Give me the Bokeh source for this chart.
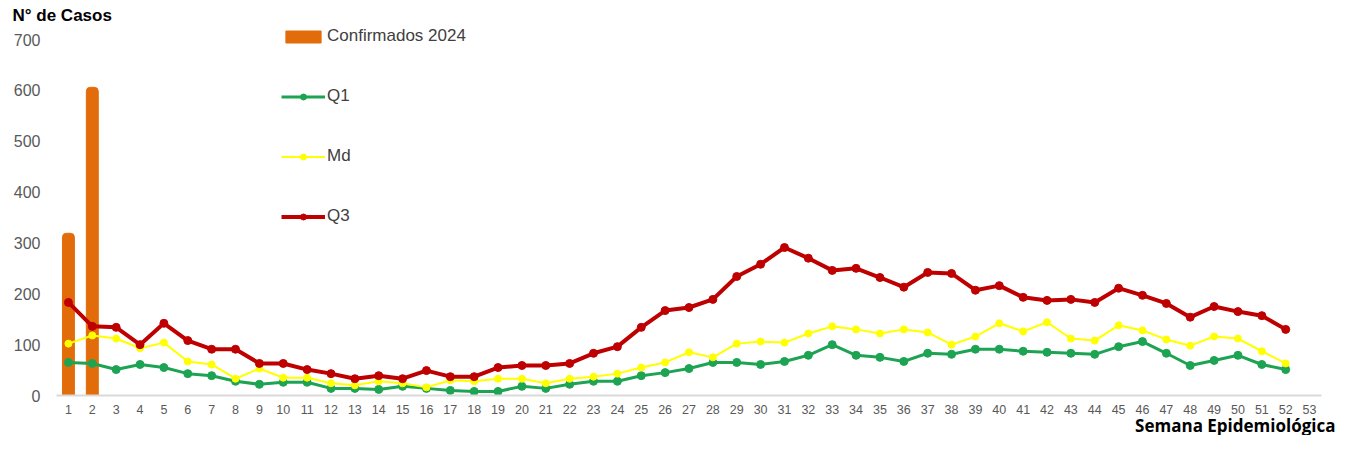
from bokeh.plotting import figure
from bokeh.models import ColumnDataSource, FixedTicker, Legend, LegendItem, Range1d, Title
from bokeh.embed import file_html
from bokeh.resources import INLINE

# ---------------- data ----------------
weeks = list(range(1, 53))
tick_weeks = list(range(1, 54))
conf_weeks = [1, 2]
confirmados_2024 = [319, 606]
q1 = [65, 63, 51, 61, 55, 43, 39, 28, 22, 26, 26, 14, 14, 12, 18, 14, 10, 8, 8, 18,
      14, 22, 28, 28, 39, 45, 53, 65, 65, 61, 67, 79, 100, 79, 75, 67, 83, 81, 91, 91,
      87, 85, 83, 81, 96, 106, 83, 59, 69, 79, 61, 51]
md = [102, 118, 112, 93, 104, 67, 61, 33, 53, 35, 35, 24, 20, 28, 24, 16, 30, 28, 33, 33,
      24, 33, 37, 43, 55, 65, 85, 75, 102, 106, 104, 122, 136, 130, 122, 130, 124, 100, 116, 142,
      126, 144, 112, 108, 138, 128, 110, 98, 116, 112, 87, 63]
q3 = [183, 136, 134, 100, 142, 108, 91, 91, 63, 63, 51, 43, 33, 39, 33, 49, 37, 37, 55, 59,
      59, 63, 83, 96, 134, 167, 173, 189, 234, 258, 291, 270, 246, 250, 232, 213, 242, 240, 207, 216,
      193, 187, 189, 183, 211, 197, 181, 154, 175, 165, 157, 130]
y_ticks = [0, 100, 200, 300, 400, 500, 600, 700]

src = ColumnDataSource(dict(week=weeks, q1=q1, md=md, q3=q3))
bar_src = ColumnDataSource(dict(week=conf_weeks, val=confirmados_2024))

FONT = "Liberation Sans"
ORANGE = "#E36C0A"
GREEN = "#1DA453"
YELLOW = "#FFFF00"
RED = "#BE0000"

p = figure(width=1337, height=435, output_backend="svg", toolbar_location=None,
           x_range=Range1d(0.5, 53.5), y_range=Range1d(0, 729.5),
           min_border_left=56, min_border_right=16, min_border_top=24, min_border_bottom=40)
p.outline_line_color = None
p.xgrid.grid_line_color = None
p.ygrid.grid_line_color = None

bars = p.vbar(x="week", top="val", width=0.5, source=bar_src, fill_color=ORANGE,
              line_color=ORANGE, border_radius=(4, 4, 0, 0))

l1 = p.line("week", "q1", source=src, line_color=GREEN, line_width=3)
s1 = p.scatter("week", "q1", source=src, size=8, fill_color=GREEN, line_color=GREEN)
l2 = p.line("week", "md", source=src, line_color=YELLOW, line_width=2)
s2 = p.scatter("week", "md", source=src, size=7, fill_color=YELLOW, line_color=YELLOW)
l3 = p.line("week", "q3", source=src, line_color=RED, line_width=4)
s3 = p.scatter("week", "q3", source=src, size=8, fill_color=RED, line_color=RED)

# axes
p.xaxis.ticker = FixedTicker(ticks=tick_weeks)
p.yaxis.ticker = FixedTicker(ticks=y_ticks)
for ax in (p.xaxis[0], p.yaxis[0]):
    ax.major_tick_line_color = None
    ax.minor_tick_line_color = None
    ax.major_tick_out = 0
    ax.major_tick_in = 0
    ax.major_label_text_font = FONT
    ax.major_label_text_color = "#595959"
p.xaxis.axis_line_color = "#D9D9D9"
p.xaxis.axis_line_width = 2
p.xaxis.major_label_text_font_size = "12.5px"
p.xaxis.major_label_standoff = 9
p.yaxis.axis_line_color = None
p.yaxis.major_label_text_font_size = "16px"
p.yaxis.major_label_standoff = 16

legend = Legend(items=[
    LegendItem(label="Confirmados 2024", renderers=[bars]),
    LegendItem(label="Q1", renderers=[l1, s1]),
    LegendItem(label="Md", renderers=[l2, s2]),
    LegendItem(label="Q3", renderers=[l3, s3]),
], location=(225, 169), orientation="vertical")
legend.spacing = 40
legend.glyph_width = 44
legend.glyph_height = 15
legend.label_height = 20
legend.label_standoff = 2
legend.padding = 0
legend.margin = 0
legend.border_line_color = None
legend.background_fill_alpha = 0
legend.label_text_font = FONT
legend.label_text_font_size = "17px"
legend.label_text_color = "#404040"
p.add_layout(legend, "center")

top_title = Title(text="N° de Casos", text_font=FONT, text_font_size="17px",
                  text_font_style="bold", text_color="#000000", align="left",
                  offset=-44, standoff=0)
p.add_layout(top_title, "above")
bottom_title = Title(text="Semana Epidemiológica", text_font="Open Sans", text_font_size="17px",
                     text_font_style="bold", text_color="#000000", align="right",
                     offset=-14, standoff=-10)
p.add_layout(bottom_title, "below")

open("out.html", "w").write(file_html(p, INLINE))
